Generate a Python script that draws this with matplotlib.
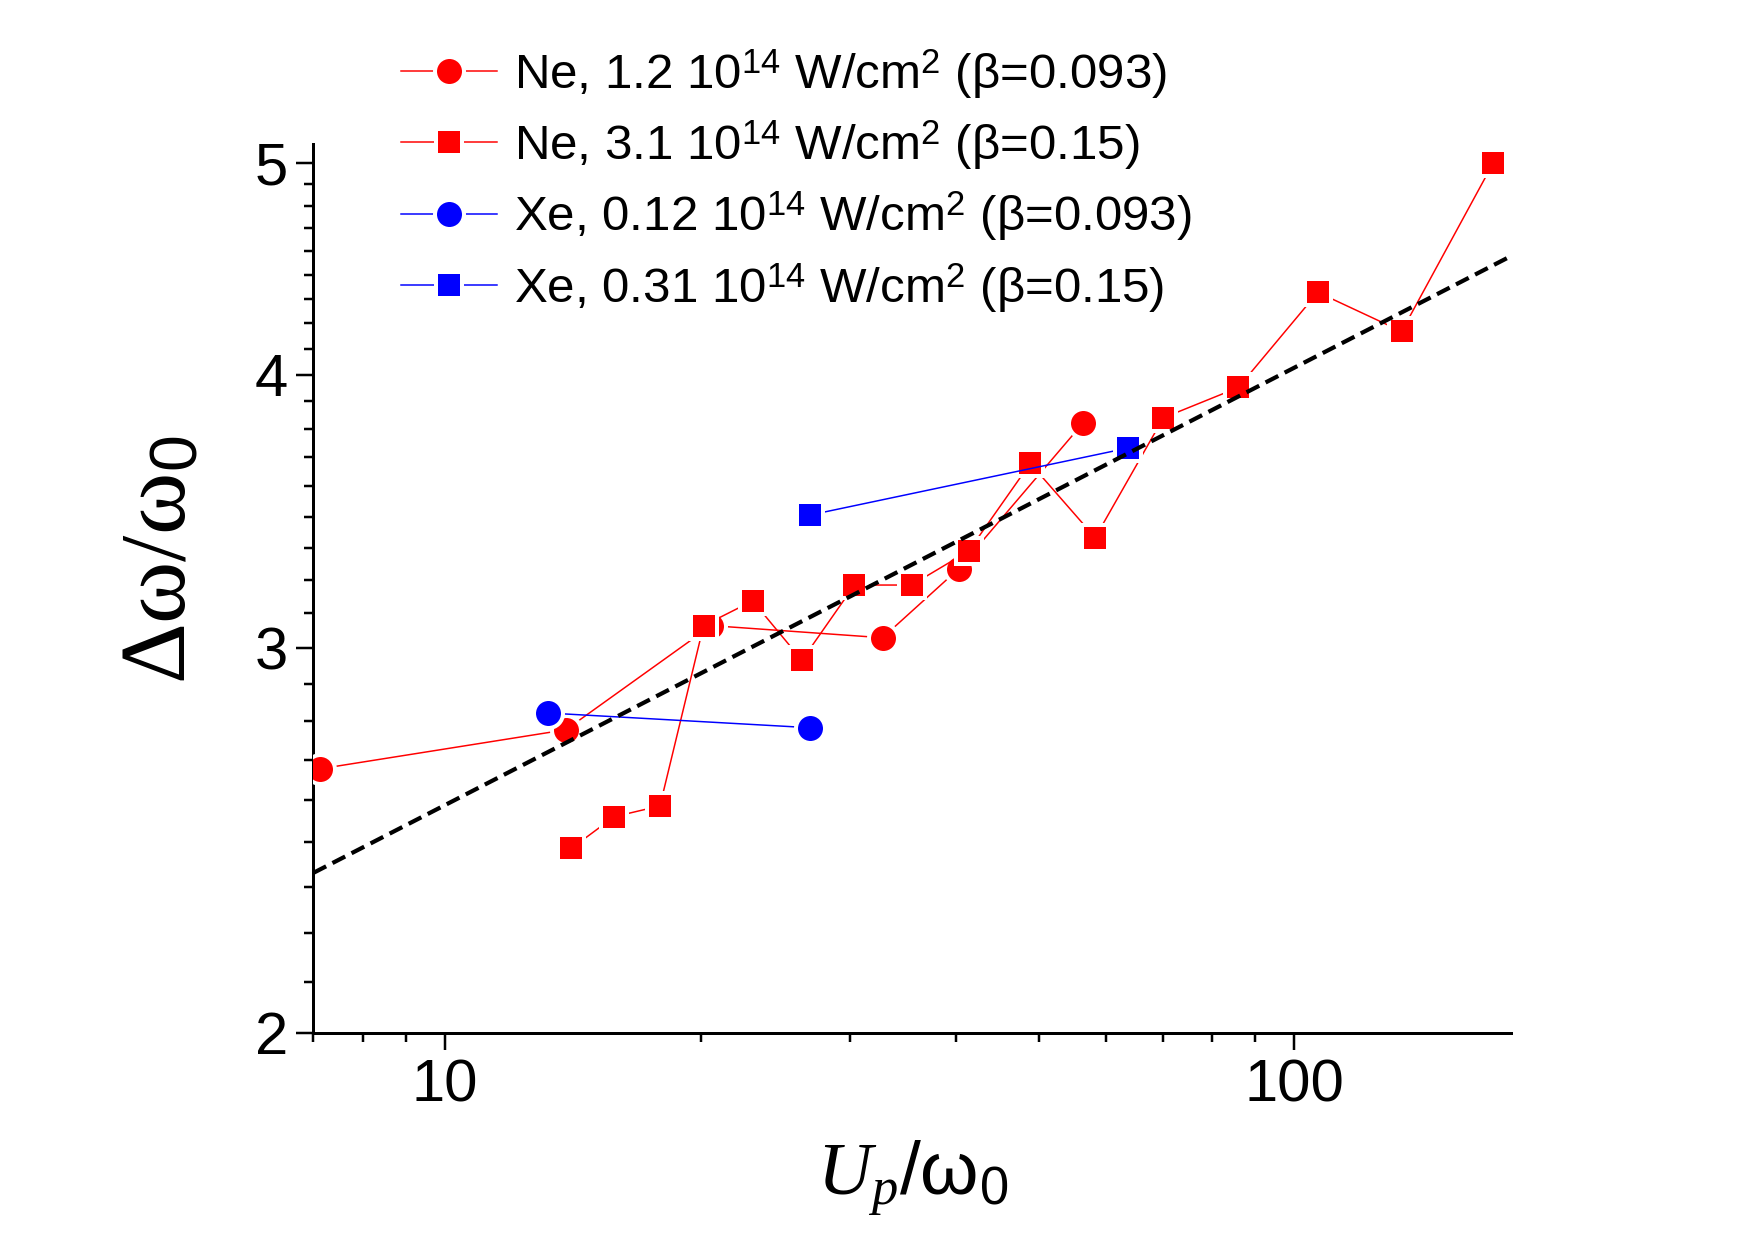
import numpy as np
import matplotlib
matplotlib.use("Agg")
import matplotlib.pyplot as plt
from matplotlib.ticker import FixedLocator, NullFormatter, LogLocator

plt.rcParams['font.family'] = ['Liberation Sans', 'DejaVu Sans']
plt.rcParams['mathtext.fontset'] = 'custom'
plt.rcParams['mathtext.rm'] = 'Liberation Sans'
plt.rcParams['mathtext.it'] = 'Liberation Serif:italic'
plt.rcParams['mathtext.bf'] = 'Liberation Sans:bold'

# Ne, 1.2e14 W/cm2 (beta=0.093) - circles
ne1_x = [7.12, 13.88, 20.59, 32.75, 40.25, 56.36]
ne1_y = [2.641, 2.752, 3.071, 3.032, 3.260, 3.80]

# Ne, 3.1e14 W/cm2 (beta=0.15) - squares
ne2_x = [14.09, 15.81, 17.91, 20.16, 23.03, 26.32, 30.35, 35.43, 41.37, 48.88,
         58.29, 70.13, 85.93, 106.6, 133.8, 171.6]
ne2_y = [2.429, 2.511, 2.540, 3.071, 3.152, 2.961, 3.205, 3.205, 3.322, 3.643,
         3.369, 3.822, 3.946, 4.362, 4.186, 5.00]

# Xe, 0.12e14 W/cm2 (beta=0.093) - circles
xe1_x = [13.22, 26.89]
xe1_y = [2.801, 2.758]

# Xe, 0.31e14 W/cm2 (beta=0.15) - squares
xe2_x = [26.89, 63.65]
xe2_y = [3.450, 3.702]

# power law guide: y = A * x**p
fit_A = 1.604
fit_p = 0.2
fit_range = [7.0, 180.0]

labels = [r'Ne, 1.2 10$^{14}$ W/cm$^{2}$ (β=0.093)',
          r'Ne, 3.1 10$^{14}$ W/cm$^{2}$ (β=0.15)',
          r'Xe, 0.12 10$^{14}$ W/cm$^{2}$ (β=0.093)',
          r'Xe, 0.31 10$^{14}$ W/cm$^{2}$ (β=0.15)']

dpi = 100
px = 72.0 / dpi  # points per pixel

fig = plt.figure(figsize=(17.55, 12.40), dpi=dpi)
ax = fig.add_axes([0.1786, 0.167, 0.861 - 0.1786, 0.884 - 0.167])

gap = 4  # white gap round the symbols, px
d_circ = 25
d_sq = 22

def series(x, y, color, marker, size, label):
    ax.plot(x, y, color=color, lw=1.5 * px, marker=marker,
            ms=(size + gap) * px, mew=gap * px, mfc=color, mec='white',
            label=label, zorder=3)

series(ne1_x, ne1_y, '#ff0000', 'o', d_circ, labels[0])
series(ne2_x, ne2_y, '#ff0000', 's', d_sq, labels[1])
series(xe1_x, xe1_y, '#0000ff', 'o', d_circ, labels[2])
series(xe2_x, xe2_y, '#0000ff', 's', d_sq, labels[3])

xf = np.geomspace(fit_range[0], fit_range[1], 50)
ax.plot(xf, fit_A * xf ** fit_p, color='black', lw=4.2 * px,
        dashes=(3.4, 1.7), zorder=5)

ax.set_xscale('log')
ax.set_yscale('log')
ax.set_xlim(7.0, 180)
ax.set_ylim(2.0, 5.1)

ax.xaxis.set_major_locator(FixedLocator([10, 100]))
ax.xaxis.set_minor_locator(LogLocator(base=10, subs=np.arange(2, 10)))
ax.xaxis.set_minor_formatter(NullFormatter())
ax.set_xticklabels(['10', '100'])

ax.yaxis.set_major_locator(FixedLocator([2, 3, 4, 5]))
yminor = [m + k / 9.0 for m in [2, 3, 4, 5] for k in range(1, 9)]
ax.yaxis.set_minor_locator(FixedLocator(yminor))
ax.yaxis.set_minor_formatter(NullFormatter())
ax.set_yticklabels(['2', '3', '4', '5'])

for s in ['top', 'right']:
    ax.spines[s].set_visible(False)
for s in ['left', 'bottom']:
    ax.spines[s].set_linewidth(3 * px)

ax.tick_params(which='major', direction='out', length=17 * px, width=2.5 * px,
               labelsize=43, pad=6)
ax.tick_params(which='minor', direction='out', length=9 * px, width=2.5 * px)

ax.set_xlabel(r'$U_p$/ω$_0$', fontsize=54, labelpad=18)
ax.set_ylabel(r'Δω/ω$_0$', fontsize=68, family=['Liberation Serif', 'DejaVu Serif'])
ax.yaxis.set_label_coords(-0.09, 0.532)

leg = fig.legend(loc='upper left', bbox_to_anchor=(0.217, 0.978), frameon=False,
                 fontsize=35.5, handlelength=1.95, handletextpad=0.35,
                 labelspacing=0.36, borderaxespad=0)

fig.savefig('out.png', dpi=dpi)
